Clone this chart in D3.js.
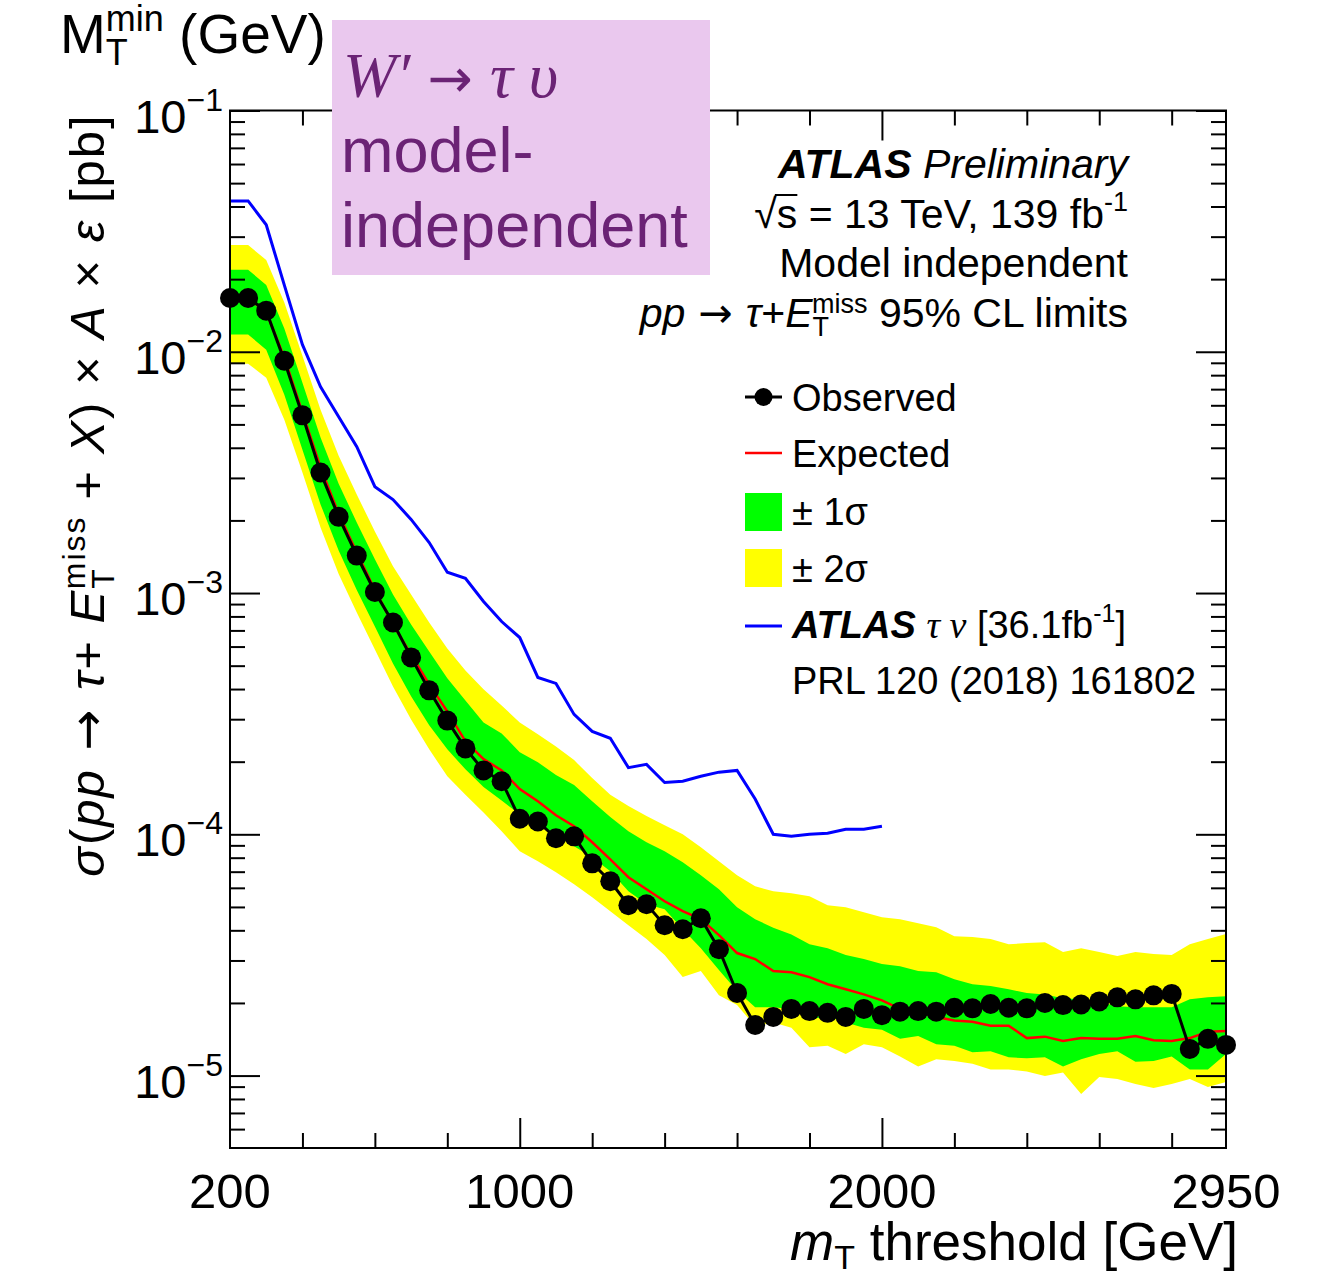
<!DOCTYPE html>
<html>
<head>
<meta charset="utf-8">
<script src="https://cdn.jsdelivr.net/npm/d3@7"></script>
<style>
  body { margin: 0; background: #fff; }
  svg { font-family: "Liberation Sans", Arial, sans-serif; }
</style>
</head>
<body>
<svg id="chart" width="1323" height="1276"></svg>
<script>
// m_T threshold points (GeV)
const mass = [200, 250, 300, 350, 400, 450, 500, 550, 600, 650,
  700, 750, 800, 850, 900, 950, 1000, 1050, 1100, 1150,
  1200, 1250, 1300, 1350, 1400, 1450, 1500, 1550, 1600, 1650,
  1700, 1750, 1800, 1850, 1900, 1950, 2000, 2050, 2100, 2150,
  2200, 2250, 2300, 2350, 2400, 2450, 2500, 2550, 2600, 2650,
  2700, 2750, 2800, 2850, 2900, 2950];

// 95% CL limits (pb)
const observed = [1.67e-2, 1.67e-2, 1.48e-2, 9.18e-3, 5.45e-3, 3.16e-3, 2.07e-3, 1.43e-3, 1.01e-3, 7.55e-4,
  5.41e-4, 3.95e-4, 2.96e-4, 2.27e-4, 1.84e-4, 1.66e-4, 1.16e-4, 1.13e-4, 9.63e-5, 9.81e-5,
  7.58e-5, 6.39e-5, 5.08e-5, 5.13e-5, 4.20e-5, 4.04e-5, 4.49e-5, 3.34e-5, 2.20e-5, 1.62e-5,
  1.75e-5, 1.89e-5, 1.85e-5, 1.82e-5, 1.75e-5, 1.89e-5, 1.78e-5, 1.84e-5, 1.85e-5, 1.84e-5,
  1.91e-5, 1.90e-5, 1.98e-5, 1.91e-5, 1.90e-5, 2.00e-5, 1.96e-5, 1.97e-5, 2.03e-5, 2.11e-5,
  2.07e-5, 2.15e-5, 2.18e-5, 1.29e-5, 1.42e-5, 1.34e-5];

const expected = [1.67e-2, 1.67e-2, 1.46e-2, 9.45e-3, 5.59e-3, 3.31e-3, 2.13e-3, 1.47e-3, 1.03e-3, 7.41e-4,
  5.56e-4, 4.18e-4, 3.23e-4, 2.43e-4, 2.05e-4, 1.84e-4, 1.54e-4, 1.37e-4, 1.20e-4, 1.08e-4,
  9.27e-5, 7.88e-5, 6.64e-5, 5.92e-5, 5.28e-5, 4.80e-5, 4.45e-5, 3.82e-5, 3.22e-5, 3.04e-5,
  2.71e-5, 2.68e-5, 2.56e-5, 2.39e-5, 2.28e-5, 2.17e-5, 2.05e-5, 1.89e-5, 1.84e-5, 1.75e-5,
  1.69e-5, 1.67e-5, 1.61e-5, 1.61e-5, 1.43e-5, 1.45e-5, 1.39e-5, 1.43e-5, 1.42e-5, 1.42e-5,
  1.46e-5, 1.40e-5, 1.39e-5, 1.43e-5, 1.52e-5, 1.53e-5];

const sigma2Up = [2.77e-2, 2.77e-2, 2.40e-2, 1.60e-2, 9.62e-3, 5.75e-3, 3.71e-3, 2.56e-3, 1.80e-3, 1.29e-3,
  9.86e-4, 7.55e-4, 5.89e-4, 4.78e-4, 3.99e-4, 3.42e-4, 2.91e-4, 2.60e-4, 2.31e-4, 2.03e-4,
  1.71e-4, 1.46e-4, 1.31e-4, 1.19e-4, 1.09e-4, 1.00e-4, 8.84e-5, 7.73e-5, 6.77e-5, 6.09e-5,
  5.81e-5, 5.70e-5, 5.54e-5, 5.08e-5, 4.99e-5, 4.75e-5, 4.53e-5, 4.45e-5, 4.28e-5, 4.12e-5,
  3.78e-5, 3.75e-5, 3.68e-5, 3.50e-5, 3.54e-5, 3.57e-5, 3.25e-5, 3.37e-5, 3.25e-5, 3.13e-5,
  3.25e-5, 3.19e-5, 3.16e-5, 3.50e-5, 3.68e-5, 3.86e-5];

const sigma1Up = [2.19e-2, 2.19e-2, 1.89e-2, 1.25e-2, 7.44e-3, 4.41e-3, 2.84e-3, 1.96e-3, 1.38e-3, 9.86e-4,
  7.41e-4, 5.73e-4, 4.43e-4, 3.59e-4, 2.91e-4, 2.62e-4, 2.19e-4, 1.99e-4, 1.76e-4, 1.60e-4,
  1.37e-4, 1.18e-4, 1.03e-4, 9.27e-5, 8.51e-5, 7.66e-5, 6.77e-5, 5.92e-5, 4.99e-5, 4.45e-5,
  4.10e-5, 3.84e-5, 3.50e-5, 3.37e-5, 3.16e-5, 3.04e-5, 2.90e-5, 2.84e-5, 2.71e-5, 2.68e-5,
  2.51e-5, 2.39e-5, 2.35e-5, 2.28e-5, 2.20e-5, 2.17e-5, 2.09e-5, 2.07e-5, 2.02e-5, 1.94e-5,
  1.92e-5, 1.92e-5, 1.92e-5, 2.07e-5, 2.11e-5, 2.13e-5];

const sigma1Down = [1.18e-2, 1.18e-2, 1.02e-2, 6.64e-3, 3.93e-3, 2.33e-3, 1.50e-3, 1.03e-3, 7.27e-4, 5.11e-4,
  3.73e-4, 2.83e-4, 2.25e-4, 1.86e-4, 1.57e-4, 1.38e-4, 1.21e-4, 1.09e-4, 9.91e-5, 8.92e-5,
  8.03e-5, 7.03e-5, 5.81e-5, 5.13e-5, 4.89e-5, 4.04e-5, 3.37e-5, 2.74e-5, 2.24e-5, 1.92e-5,
  1.92e-5, 1.89e-5, 1.71e-5, 1.76e-5, 1.66e-5, 1.58e-5, 1.55e-5, 1.42e-5, 1.46e-5, 1.35e-5,
  1.33e-5, 1.25e-5, 1.26e-5, 1.19e-5, 1.18e-5, 1.19e-5, 1.09e-5, 1.17e-5, 1.23e-5, 1.26e-5,
  1.14e-5, 1.15e-5, 1.20e-5, 1.06e-5, 1.06e-5, 1.23e-5];

const sigma2Down = [8.92e-3, 8.92e-3, 7.80e-3, 5.23e-3, 3.16e-3, 1.87e-3, 1.20e-3, 8.30e-4, 5.83e-4, 4.10e-4,
  2.99e-4, 2.25e-4, 1.74e-4, 1.46e-4, 1.23e-4, 1.03e-4, 8.51e-5, 7.73e-5, 6.96e-5, 6.21e-5,
  5.49e-5, 4.80e-5, 4.20e-5, 3.68e-5, 3.16e-5, 2.56e-5, 2.71e-5, 2.15e-5, 1.96e-5, 1.60e-5,
  1.66e-5, 1.58e-5, 1.31e-5, 1.33e-5, 1.23e-5, 1.35e-5, 1.31e-5, 1.20e-5, 1.09e-5, 1.17e-5,
  1.15e-5, 1.12e-5, 1.06e-5, 1.06e-5, 1.04e-5, 9.95e-6, 1.03e-5, 8.38e-6, 9.86e-6, 9.67e-6,
  9.22e-6, 8.88e-6, 9.22e-6, 9.67e-6, 8.96e-6, 9.40e-6];

// previous ATLAS result, 36.1 fb-1
const prevMass = [200, 250, 300, 350, 400, 450, 500, 550, 600, 650,
  700, 750, 800, 850, 900, 950, 1000, 1050, 1100, 1150,
  1200, 1250, 1300, 1350, 1400, 1450, 1500, 1550, 1600, 1650,
  1700, 1750, 1800, 1850, 1900, 1950, 2000];
const prevLimit = [4.22e-2, 4.22e-2, 3.36e-2, 1.89e-2, 1.07e-2, 7.16e-3, 5.38e-3, 4.04e-3, 2.76e-3, 2.44e-3,
  2.02e-3, 1.62e-3, 1.22e-3, 1.15e-3, 9.22e-4, 7.62e-4, 6.54e-4, 4.47e-4, 4.22e-4, 3.14e-4,
  2.67e-4, 2.50e-4, 1.89e-4, 1.95e-4, 1.64e-4, 1.66e-4, 1.74e-4, 1.81e-4, 1.84e-4, 1.40e-4,
  1.00e-4, 9.81e-5, 1.00e-4, 1.01e-4, 1.05e-4, 1.05e-4, 1.08e-4];

// ticks
const xLabels = [200, 1000, 2000, 2950];
const xMajor = [1000, 2000];
const xMinor = [400, 600, 800, 1200, 1400, 1600, 1800, 2200, 2400, 2600, 2800];
const yMajor = [1e-5, 1e-4, 1e-3, 1e-2, 1e-1];
const yLabels = ["−5", "−4", "−3", "−2", "−1"];

const plotLeft = 230, plotRight = 1226, plotTop = 110.5, plotBottom = 1148;
const ARROW = "'DejaVu Sans', sans-serif";

const svg = d3.select("#chart");
const x = d3.scaleLinear().domain([200, 2950]).range([plotLeft, plotRight]);
const y = d3.scaleLog().domain([5.01e-6, 0.1]).range([plotBottom, plotTop]);
const yMinor = y.ticks().filter(v => !yMajor.some(m => Math.abs(v / m - 1) < 1e-6));

svg.append("clipPath").attr("id", "clip")
  .append("rect").attr("x", plotLeft).attr("y", plotTop)
  .attr("width", plotRight - plotLeft).attr("height", plotBottom - plotTop);

const plot = svg.append("g").attr("clip-path", "url(#clip)");

const xi = (d, i) => x(mass[i]);
const band = (lo, hi) => d3.area().x(xi).y0((d, i) => y(lo[i])).y1((d, i) => y(hi[i]));
const curve = vals => d3.line().x(xi).y((d, i) => y(vals[i]));

plot.append("path").datum(mass).attr("d", band(sigma2Down, sigma2Up)).attr("fill", "#ffff00");
plot.append("path").datum(mass).attr("d", band(sigma1Down, sigma1Up)).attr("fill", "#00ff00");

plot.append("path").datum(prevMass)
  .attr("d", d3.line().x(d => x(d)).y((d, i) => y(prevLimit[i])))
  .attr("fill", "none").attr("stroke", "#0000ff").attr("stroke-width", 3);

plot.append("path").datum(mass).attr("d", curve(expected))
  .attr("fill", "none").attr("stroke", "#ff0000").attr("stroke-width", 2.5);

plot.append("path").datum(mass).attr("d", curve(observed))
  .attr("fill", "none").attr("stroke", "#000").attr("stroke-width", 3);

svg.append("g").selectAll("circle")
  .data(mass).enter().append("circle")
  .attr("cx", xi).attr("cy", (d, i) => y(observed[i])).attr("r", 10)
  .attr("fill", "#000");

// axes, ticks pointing inward on all four sides
const tickStyle = g => {
  g.select(".domain").remove();
  g.selectAll("text").remove();
  g.selectAll("line").attr("stroke", "#000").attr("stroke-width", 2);
};
svg.append("g").attr("transform", `translate(0,${plotBottom})`)
  .call(d3.axisBottom(x).tickValues(xMinor).tickSize(-15)).call(tickStyle);
svg.append("g").attr("transform", `translate(0,${plotBottom})`)
  .call(d3.axisBottom(x).tickValues(xMajor).tickSize(-30)).call(tickStyle);
svg.append("g").attr("transform", `translate(0,${plotTop})`)
  .call(d3.axisTop(x).tickValues(xMinor).tickSize(-15)).call(tickStyle);
svg.append("g").attr("transform", `translate(0,${plotTop})`)
  .call(d3.axisTop(x).tickValues(xMajor).tickSize(-30)).call(tickStyle);
svg.append("g").attr("transform", `translate(${plotLeft},0)`)
  .call(d3.axisLeft(y).tickValues(yMinor).tickSize(-15)).call(tickStyle);
svg.append("g").attr("transform", `translate(${plotLeft},0)`)
  .call(d3.axisLeft(y).tickValues(yMajor).tickSize(-30)).call(tickStyle);
svg.append("g").attr("transform", `translate(${plotRight},0)`)
  .call(d3.axisRight(y).tickValues(yMinor).tickSize(-15)).call(tickStyle);
svg.append("g").attr("transform", `translate(${plotRight},0)`)
  .call(d3.axisRight(y).tickValues(yMajor).tickSize(-30)).call(tickStyle);

svg.append("rect").attr("x", plotLeft).attr("y", plotTop)
  .attr("width", plotRight - plotLeft).attr("height", plotBottom - plotTop)
  .attr("fill", "none").attr("stroke", "#000").attr("stroke-width", 2);

// mixed-style text helper
function rich(xPos, yPos, anchor, size, parts, g = svg) {
  const t = g.append("text").attr("x", xPos).attr("y", yPos)
    .attr("text-anchor", anchor).attr("font-size", size).attr("fill", "#000");
  parts.forEach(p => {
    const s = t.append("tspan").text(p.t);
    if (p.i) s.attr("font-style", "italic");
    if (p.b) s.attr("font-weight", "bold");
    if (p.fs) s.attr("font-size", p.fs);
    if (p.dy) s.attr("dy", p.dy);
    if (p.dx) s.attr("dx", p.dx);
    if (p.f) s.attr("font-family", p.f);
  });
  return t;
}

// tick labels
svg.append("g").selectAll("text").data(xLabels).enter().append("text")
  .attr("x", d => x(d)).attr("y", 1208).attr("text-anchor", "middle")
  .attr("font-size", 49).text(d => d);

yMajor.forEach((v, i) => {
  rich(223, y(v) + 22, "end", 47, [{ t: "10" }, { t: yLabels[i], fs: 32, dy: -22 }]);
});

// axis titles
rich(1238, 1260, "end", 53, [
  { t: "m", i: true }, { t: "T", fs: 34, dy: 9 }, { t: " threshold [GeV]", dy: -9 }
]);

const yTitle = svg.append("g").attr("transform", "translate(104,495) rotate(-90)");
rich(0, 0, "middle", 49, [
  { t: "σ", i: true }, { t: "(" }, { t: "pp", i: true }, { t: " → ", f: ARROW }, { t: "τ", i: true },
  { t: "+ " }, { t: "E", i: true }, { t: "T", fs: 32, dy: 10 },
  { t: "miss", fs: 32, dx: -22, dy: -29 }, { t: " + ", dy: 19 }, { t: "X", i: true },
  { t: ") × " }, { t: "A", i: true }, { t: " × " }, { t: "ε", i: true }, { t: " [pb]" }
], yTitle).attr("letter-spacing", 2);

rich(60, 53, "start", 55, [
  { t: "M" }, { t: "T", fs: 36, dy: 12 }, { t: "min", fs: 36, dx: -22, dy: -34 },
  { t: " (GeV)", dy: 22 }
]);

// ATLAS label block
rich(1128, 178, "end", 41, [{ t: "ATLAS", b: true, i: true }, { t: " Preliminary", i: true }]);
const sqrtLine = rich(1128, 228, "end", 41, [
  { t: "√s" }, { t: " = 13 TeV, 139 fb" }, { t: "-1", fs: 27, dy: -17 }
]);
{
  const node = sqrtLine.node();
  const r = node.getExtentOfChar(0), s = node.getExtentOfChar(1);
  svg.append("line")
    .attr("x1", r.x + r.width - 2).attr("x2", s.x + s.width)
    .attr("y1", r.y + 4).attr("y2", r.y + 4)
    .attr("stroke", "#000").attr("stroke-width", 2);
}
rich(1128, 277, "end", 41, [{ t: "Model independent" }]);
rich(1128, 327, "end", 41, [
  { t: "pp", i: true }, { t: " → ", f: ARROW }, { t: "τ", i: true }, { t: "+" }, { t: "E", i: true },
  { t: "T", fs: 27, dy: 9 }, { t: "miss", fs: 27, dx: -17, dy: -23 },
  { t: " 95% CL limits", dy: 14 }
]);

// legend
const lg = svg.append("g");
const lx0 = 745, lx1 = 782, tx = 792;
lg.append("line").attr("x1", lx0).attr("x2", lx1).attr("y1", 397).attr("y2", 397)
  .attr("stroke", "#000").attr("stroke-width", 3);
lg.append("circle").attr("cx", (lx0 + lx1) / 2).attr("cy", 397).attr("r", 9).attr("fill", "#000");
lg.append("line").attr("x1", lx0).attr("x2", lx1).attr("y1", 453).attr("y2", 453)
  .attr("stroke", "#ff0000").attr("stroke-width", 2.5);
lg.append("rect").attr("x", lx0).attr("y", 493).attr("width", lx1 - lx0).attr("height", 38).attr("fill", "#00ff00");
lg.append("rect").attr("x", lx0).attr("y", 549).attr("width", lx1 - lx0).attr("height", 38).attr("fill", "#ffff00");
lg.append("line").attr("x1", lx0).attr("x2", lx1).attr("y1", 626).attr("y2", 626)
  .attr("stroke", "#0000ff").attr("stroke-width", 3);

rich(tx, 411, "start", 38, [{ t: "Observed" }], lg);
rich(tx, 467, "start", 38, [{ t: "Expected" }], lg);
rich(tx, 525, "start", 38, [{ t: "± 1σ" }], lg);
rich(tx, 582, "start", 38, [{ t: "± 2σ" }], lg);
rich(tx, 638, "start", 38, [
  { t: "ATLAS", b: true, i: true }, { t: " " },
  { t: "τ ν", i: true, f: "'Liberation Serif', serif" }, { t: " [36.1fb" },
  { t: "-1", fs: 25, dy: -16 }, { t: "]", dy: 16 }
], lg);
rich(tx, 694, "start", 38, [{ t: "PRL 120 (2018) 161802" }], lg);

// highlighted annotation box
const note = svg.append("g");
note.append("rect").attr("x", 332).attr("y", 20).attr("width", 378).attr("height", 255).attr("fill", "#eac8ee");
rich(343, 97, "start", 64, [
  { t: "W", i: true }, { t: "′", i: true }, { t: " → ", f: ARROW, fs: 54 }, { t: "τ", i: true },
  { t: " " }, { t: "υ", i: true }
], note).attr("font-family", "'Liberation Serif', serif").attr("fill", "#6b2375");
rich(341, 172, "start", 63, [{ t: "model-" }], note).attr("fill", "#6b2375");
rich(341, 247, "start", 63, [{ t: "independent" }], note).attr("fill", "#6b2375");
</script>
</body>
</html>
